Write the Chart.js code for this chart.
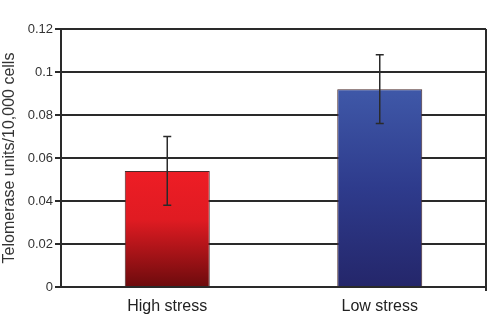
<!DOCTYPE html>
<html>
<head>
<meta charset="utf-8">
<script src="https://cdn.jsdelivr.net/npm/chart.js@4"></script>
<style>
  html, body { margin: 0; padding: 0; background: #fff; }
  #wrap { width: 490px; height: 336px; }
</style>
</head>
<body>
<div id="wrap"><canvas id="telomerase_chart" width="490" height="336"></canvas></div>
<script>
  const groups = ['High stress', 'Low stress'];
  const telomerase = [0.054, 0.092];
  const telomerase_err = [0.016, 0.016];
  const y_ticks = [0, 0.02, 0.04, 0.06, 0.08, 0.1, 0.12];

  const ink = '#2a2a2a';

  // vertical gradient per bar, top colour first
  const bar_colours = [
    [[0, '#ee1d25'], [0.42, '#e01b22'], [1, '#6c0b0d']],
    [[0, '#3f58a8'], [0.5, '#2e3b8c'], [1, '#24266a']]
  ];

  function bar_gradient(ctx) {
    const chart = ctx.chart;
    const area = chart.chartArea;
    if (!area) return bar_colours[ctx.dataIndex][0][1];
    const y = chart.scales.y;
    const top = y.getPixelForValue(telomerase[ctx.dataIndex]);
    const bottom = y.getPixelForValue(0);
    const g = chart.ctx.createLinearGradient(0, top, 0, bottom);
    bar_colours[ctx.dataIndex].forEach(function(s) { g.addColorStop(s[0], s[1]); });
    return g;
  }

  // error bars and the right-hand frame line
  const error_bars = {
    id: 'error_bars',
    afterDatasetsDraw: function(chart) {
      const c = chart.ctx;
      const y = chart.scales.y;
      const meta = chart.getDatasetMeta(0);
      c.save();
      c.strokeStyle = ink;
      c.lineWidth = 1.5;
      meta.data.forEach(function(bar, i) {
        const hi = y.getPixelForValue(telomerase[i] + telomerase_err[i]);
        const lo = y.getPixelForValue(telomerase[i] - telomerase_err[i]);
        c.beginPath();
        c.moveTo(bar.x, hi); c.lineTo(bar.x, lo);
        c.moveTo(bar.x - 4, hi); c.lineTo(bar.x + 4, hi);
        c.moveTo(bar.x - 4, lo); c.lineTo(bar.x + 4, lo);
        c.stroke();
      });
      const a = chart.chartArea;
      c.lineWidth = 2;
      c.beginPath();
      c.moveTo(a.right, a.top); c.lineTo(a.right, a.bottom + 4);
      c.stroke();
      c.restore();
    }
  };

  new Chart('telomerase_chart', {
    type: 'bar',
    data: {
      labels: groups,
      datasets: [{
        data: telomerase,
        backgroundColor: bar_gradient,
        borderColor: '#4a2a2a',
        borderWidth: 1,
        barPercentage: 0.4,
        categoryPercentage: 1
      }]
    },
    options: {
      responsive: false,
      animation: false,
      layout: { padding: { top: 29, right: 4, left: 0, bottom: 0 } },
      plugins: { legend: { display: false }, tooltip: { enabled: false } },
      scales: {
        x: {
          grid: { display: false },
          border: { display: false },
          ticks: { color: '#222', font: { family: 'Liberation Sans, Arial', size: 16 }, padding: 2 },
          afterFit: function(s) { s.height = 49; }
        },
        y: {
          min: 0,
          max: 0.12,
          afterBuildTicks: function(s) { s.ticks = y_ticks.map(function(v) { return { value: v }; }); },
          grid: { color: ink, lineWidth: 2, tickLength: 6, drawTicks: true },
          border: { display: true, color: ink, width: 2 },
          ticks: {
            color: '#333',
            font: { family: 'Liberation Sans, Arial', size: 13 },
            padding: 2,
            callback: function(v) { return String(+v.toFixed(2)); }
          },
          title: {
            display: true,
            text: 'Telomerase units/10,000 cells',
            color: '#333',
            font: { family: 'Liberation Sans, Arial', size: 16 },
            padding: { top: 0, bottom: 3 }
          },
          afterFit: function(s) { s.width = 61; }
        }
      }
    },
    plugins: [error_bars]
  });
</script>
</body>
</html>
